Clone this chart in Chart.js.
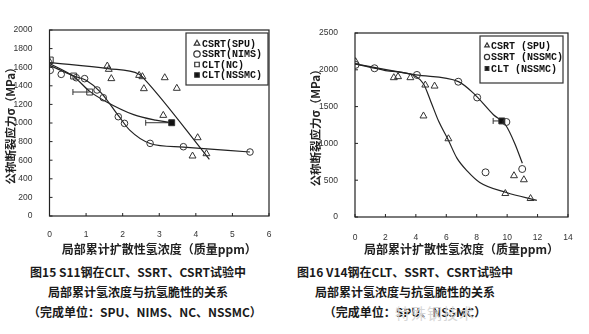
<!DOCTYPE html>
<html>
<head>
<meta charset="utf-8">
<script src="https://cdn.jsdelivr.net/npm/chart.js@4.4.1/dist/chart.umd.min.js"></script>
<style>
body{margin:0;width:589px;height:334px;background:#fff;position:relative;overflow:hidden;font-family:"Noto Sans CJK SC",sans-serif;}
canvas{position:absolute;top:0;}
#c1{left:0}
#c2{left:300px}
.cap{position:absolute;top:262px;width:220px;font-size:12px;font-weight:bold;line-height:20px;text-align:center;color:#1a1a1a;white-space:nowrap;}
#wm{position:absolute;left:395px;top:302px;font-size:15px;color:#d6d6d6;letter-spacing:1px;}
</style>
</head>
<body>
<canvas id="c1" width="290" height="258"></canvas>
<canvas id="c2" width="289" height="258"></canvas>
<div class="cap" style="left:28px">图15 S11钢在CLT、SSRT、CSRT试验中<br>局部累计氢浓度与抗氢脆性的关系<br>（完成单位：SPU、NIMS、NC、NSSMC）</div>
<div class="cap" style="left:295px">图16 V14钢在CLT、SSRT、CSRT试验中<br>局部累计氢浓度与抗氢脆性的关系<br>（完成单位：SPU、NSSMC）</div>
<div id="wm">特殊钢技术</div>
<script>
// ---- fig 15 (S11) data ----
const s11SpuX = [0, 1.58, 1.62, 1.69, 2.45, 2.54, 2.58, 3.15, 3.48, 3.11, 4.05, 3.91, 4.29];
const s11SpuY = [1660, 1613, 1577, 1477, 1512, 1498, 1369, 1487, 1373, 1082, 842, 645, 670];
const s11NimsX = [0.02, 0.32, 0.73, 0.96, 1.3, 1.47, 1.88, 2.05, 2.75, 3.66, 5.48];
const s11NimsY = [1566, 1523, 1487, 1477, 1355, 1272, 1068, 996, 781, 745, 688];
const s11NcX = [0.02, 0.66, 1.1];
const s11NcY = [1677, 1505, 1333];
const s11NcErrMin = [null, null, 0.64];
const s11NssmcX = [3.34];
const s11NssmcY = [1003];
const s11NssmcErrMin = [2.63];
// fitted curves
const s11FitSpuX = [0, 1.6, 2.45, 2.6, 4.37];
const s11FitSpuY = [1650, 1585, 1525, 1470, 610];
const s11FitNimsX = [0, 0.7, 1.0, 1.4, 1.9, 2.2, 2.75, 3.66, 5.48];
const s11FitNimsY = [1620, 1500, 1460, 1330, 1070, 920, 780, 740, 688];
const s11FitNcX = [0, 0.66, 1.1, 1.5, 2.3, 2.9, 3.34];
const s11FitNcY = [1640, 1500, 1340, 1240, 1090, 1030, 1003];

// ---- fig 16 (V14) data ----
const v14SpuX = [0.04, 2.55, 2.83, 3.64, 4.62, 5.23, 4.5, 6.14, 10.45, 11.1, 9.88, 11.54];
const v14SpuY = [2110, 1893, 1907, 1893, 1793, 1779, 1373, 1063, 561, 506, 319, 251];
const v14SsrtX = [0.04, 1.28, 4.07, 6.79, 8.03, 9.95, 8.58, 10.99];
const v14SsrtY = [2067, 2021, 1930, 1838, 1624, 1291, 607, 652];
const v14CltX = [9.65];
const v14CltY = [1305];
const v14CltErrMin = [9.08];
const v14FitSpuX = [0, 2, 4, 4.5, 5, 5.5, 6.1, 6.7, 7.4, 8.2, 9.95, 11.95];
const v14FitSpuY = [2080, 1990, 1910, 1810, 1560, 1300, 1060, 800, 620, 470, 333, 225];
const v14FitSsrtX = [0, 4, 6.8, 7.8, 9.1, 9.9, 10.5, 11.0];
const v14FitSsrtY = [2080, 1930, 1840, 1680, 1390, 1250, 1000, 730];

const ink = "#222";
const pts = (xs, ys) => xs.map((x, i) => ({ x: x, y: ys[i] }));

function markers(label, xs, ys, style, radius, fill) {
  return {
    type: "scatter",
    label: label,
    data: pts(xs, ys),
    pointStyle: style,
    pointRadius: radius,
    pointBorderWidth: 1,
    borderColor: "#333",
    backgroundColor: fill,
    pointBackgroundColor: fill,
    pointBorderColor: "#333",
  };
}
function curve(xs, ys) {
  return {
    type: "line",
    label: "",
    data: pts(xs, ys),
    borderColor: ink,
    borderWidth: 1.2,
    pointRadius: 0,
    cubicInterpolationMode: "monotone",
    fill: false,
    fitLine: true,
  };
}

// frame, inward ticks, error bars and boxed legend
const decor = {
  id: "decor",
  beforeDatasetsDraw(chart) {
    const { ctx, scales: { x, y } } = chart;
    ctx.save();
    ctx.strokeStyle = "#333";
    ctx.lineWidth = 1;
    chart.data.datasets.forEach((ds) => {
      if (!ds.errXMin) return;
      ds.data.forEach((p, j) => {
        if (ds.errXMin[j] == null) return;
        const x0 = x.getPixelForValue(ds.errXMin[j]);
        const x1 = x.getPixelForValue(p.x);
        const py = y.getPixelForValue(p.y);
        ctx.beginPath();
        ctx.moveTo(x0, py);
        ctx.lineTo(x1, py);
        ctx.moveTo(x0, py - 3);
        ctx.lineTo(x0, py + 3);
        ctx.stroke();
      });
    });
    ctx.restore();
  },
  afterDatasetsDraw(chart, args, opts) {
    const { ctx, chartArea: a, scales: { x, y } } = chart;
    ctx.save();
    ctx.strokeStyle = ink;
    ctx.lineWidth = 1.2;
    ctx.strokeRect(a.left, a.top, a.width, a.height);
    ctx.lineWidth = 1;
    ctx.beginPath();
    x.ticks.forEach((t) => {
      const px = x.getPixelForValue(t.value);
      ctx.moveTo(px, a.bottom);
      ctx.lineTo(px, a.bottom - 3);
    });
    y.ticks.forEach((t) => {
      const py = y.getPixelForValue(t.value);
      ctx.moveTo(a.left, py);
      ctx.lineTo(a.left + 3, py);
    });
    ctx.stroke();

    // legend
    const b = opts.box;
    ctx.fillStyle = "#fff";
    ctx.fillRect(b.x, b.y, b.w, b.h);
    ctx.strokeStyle = "#333";
    ctx.lineWidth = 1.2;
    ctx.strokeRect(b.x, b.y, b.w, b.h);
    ctx.font = "bold 10px 'Liberation Mono'";
    ctx.textBaseline = "middle";
    let row = 0;
    chart.data.datasets.forEach((ds) => {
      if (ds.fitLine) return;
      const ry = b.y + b.rows[row++];
      ctx.fillStyle = ds.backgroundColor;
      ctx.strokeStyle = "#333";
      Chart.helpers.drawPoint(ctx, { pointStyle: ds.pointStyle, rotation: 0, radius: b.r, borderWidth: 1 }, b.x + b.mx, ry);
      ctx.fillStyle = "#111";
      ctx.fillText(ds.label, b.x + b.tx, ry + 0.5);
    });
    ctx.restore();
  },
};

function makeConfig(datasets, o) {
  return {
    data: { datasets: datasets },
    plugins: [decor],
    options: {
      responsive: false,
      animation: false,
      layout: { padding: { top: o.top, right: o.right, left: 0, bottom: 0 } },
      scales: {
        x: {
          type: "linear",
          min: 0,
          max: o.xmax,
          grid: { display: false },
          border: { display: false },
          ticks: { stepSize: o.xstep, padding: o.xpad, color: "#333", font: { family: "Liberation Sans", size: 8.5 } },
          title: {
            display: true,
            text: "局部累计扩散性氢浓度（质量ppm）",
            color: "#222",
            padding: { top: 0, bottom: 1 },
            font: { family: "Noto Sans CJK SC", size: 12, weight: "bold" },
          },
          afterFit: (s) => { s.height = o.xh; },
        },
        y: {
          type: "linear",
          min: 0,
          max: o.ymax,
          grid: { display: false },
          border: { display: false },
          ticks: {
            stepSize: o.ystep,
            padding: o.ypad,
            color: "#333",
            format: { useGrouping: false },
            font: { family: "Liberation Sans", size: 8.5 },
          },
          title: {
            display: true,
            text: "公称断裂应力σ（MPa）",
            color: "#222",
            padding: { top: o.ytpad, bottom: 0 },
            font: { family: "Noto Sans CJK SC", size: 11.5, weight: "bold" },
          },
          afterFit: (s) => { s.width = o.yw; },
        },
      },
      plugins: {
        legend: { display: false },
        tooltip: { enabled: false },
        decor: { box: o.box },
      },
    },
  };
}

const ds1 = [
  markers("CSRT(SPU)", s11SpuX, s11SpuY, "triangle", 4, "rgba(255,255,255,0)"),
  markers("SSRT(NIMS)", s11NimsX, s11NimsY, "circle", 3.3, "rgba(255,255,255,0)"),
  markers("CLT(NC)", s11NcX, s11NcY, "rect", 4.2, "rgba(255,255,255,0)"),
  markers("CLT(NSSMC)", s11NssmcX, s11NssmcY, "rect", 4.2, "#111"),
  curve(s11FitSpuX, s11FitSpuY),
  curve(s11FitNimsX, s11FitNimsY),
  curve(s11FitNcX, s11FitNcY),
];
ds1[2].errXMin = s11NcErrMin;
ds1[3].errXMin = s11NssmcErrMin;

const myChart1 = new Chart(document.getElementById("c1"), makeConfig(ds1, {
  top: 30, right: 21, xmax: 6, xstep: 1, ymax: 2000, ystep: 200,
  xh: 42, yw: 49.5, xpad: 6, ypad: 9, ytpad: 4,
  box: { x: 186, y: 33, w: 82, h: 52, rows: [10.5, 21, 31.5, 42], mx: 11, tx: 16, r: 3.2 },
}));

const ds2 = [
  markers("CSRT (SPU)", v14SpuX, v14SpuY, "triangle", 4, "rgba(255,255,255,0)"),
  markers("SSRT (NSSMC)", v14SsrtX, v14SsrtY, "circle", 3.5, "rgba(255,255,255,0)"),
  markers("CLT (NSSMC)", v14CltX, v14CltY, "rect", 4.2, "#111"),
  curve(v14FitSpuX, v14FitSpuY),
  curve(v14FitSsrtX, v14FitSsrtY),
];
ds2[2].errXMin = v14CltErrMin;

const myChart2 = new Chart(document.getElementById("c2"), makeConfig(ds2, {
  top: 33, right: 21, xmax: 14, xstep: 2, ymax: 2500, ystep: 500,
  xh: 41, yw: 55, xpad: 8, ypad: 9, ytpad: 9,
  box: { x: 180, y: 36, w: 83, h: 47, rows: [9.5, 21, 32.5], mx: 7, tx: 11, r: 2.6 },
}));
</script>
</body>
</html>
